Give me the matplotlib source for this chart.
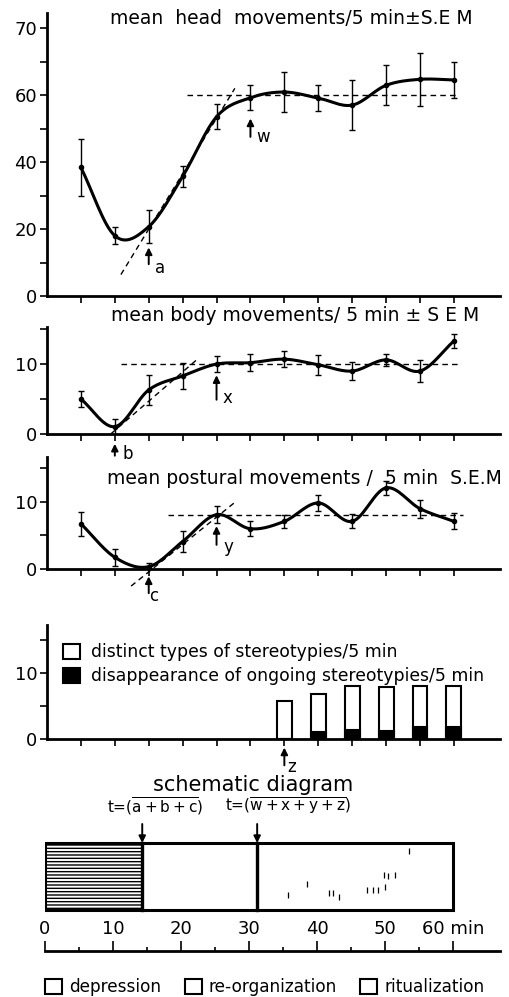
import numpy as np
import matplotlib
matplotlib.use("Agg")
import matplotlib.pyplot as plt
from matplotlib.patches import Rectangle, Patch

# time points (min)
minutes = [5, 10, 15, 20, 25, 30, 35, 40, 45, 50, 55, 60]

head_mean = [38.4, 18.0, 20.7, 35.7, 53.5, 59.2, 60.9, 59.1, 57.0, 62.9, 64.7, 64.5]
head_sem = [8.6, 2.6, 5.0, 3.2, 3.7, 3.7, 6.0, 4.0, 7.5, 6.0, 8.0, 5.5]

body_mean = [5.0, 1.05, 6.3, 8.3, 10.0, 10.2, 10.7, 9.9, 9.0, 10.6, 9.0, 13.3]
body_sem = [1.1, 1.1, 2.2, 1.9, 1.2, 1.2, 1.1, 1.4, 1.3, 0.9, 1.6, 1.0]

post_mean = [6.75, 1.75, 0.35, 4.1, 8.1, 6.0, 7.1, 9.85, 7.1, 12.1, 9.0, 7.1]
post_sem = [1.8, 1.3, 0.5, 1.6, 1.25, 1.1, 1.0, 1.15, 1.05, 1.0, 1.35, 1.2]

stereo_minutes = [35, 40, 45, 50, 55, 60]
distinct_types = [5.75, 6.85, 8.0, 7.85, 8.0, 8.0]
disappearance = [0.0, 1.1, 1.35, 1.2, 1.85, 1.85]

# schematic diagram phase borders (min)
t_abc = 14.3
t_wxyz = 31.2
ritual_marks_x = [35.8, 38.6, 41.7, 42.4, 43.3, 47.4, 48.2, 49.0, 50.0, 49.8, 50.5, 51.4, 53.6]
ritual_marks_y = [65, 76, 67, 67, 63, 70, 70, 70, 73, 85, 84, 85, 109]

W, H = 509, 997
FS = 13
TFS = 13.5


def smooth(x, y, n=16):
    # Catmull-Rom curve through the points
    x = np.asarray(x, float)
    y = np.asarray(y, float)
    px = np.concatenate([[2 * x[0] - x[1]], x, [2 * x[-1] - x[-2]]])
    py = np.concatenate([[2 * y[0] - y[1]], y, [2 * y[-1] - y[-2]]])
    t = np.linspace(0, 1, n, endpoint=False)
    xs, ys = [], []
    for i in range(1, len(px) - 2):
        for P, out in ((px, xs), (py, ys)):
            p0, p1, p2, p3 = P[i - 1:i + 3]
            out.extend(0.5 * (2 * p1 + (-p0 + p2) * t
                              + (2 * p0 - 5 * p1 + 4 * p2 - p3) * t ** 2
                              + (-p0 + 3 * p1 - 3 * p2 + p3) * t ** 3))
    xs.append(x[-1])
    ys.append(y[-1])
    return np.array(xs), np.array(ys)


def panel(top, bottom, ymax):
    ax = fig.add_axes([47 / W, 1 - bottom / H, 453 / W, (bottom - top) / H])
    ax.patch.set_visible(False)
    ax.set_xlim(0, 66.8)
    ax.set_ylim(0, ymax)
    for s in ["top", "right"]:
        ax.spines[s].set_visible(False)
    for s in ["left", "bottom"]:
        ax.spines[s].set_linewidth(2.0)
    ax.set_xticks(minutes)
    ax.set_xticklabels([])
    ax.tick_params(direction="out", length=5, width=1.2, labelsize=FS, pad=2)
    return ax


def arrow(ax, x, y0, y1, label, lx, ly):
    ax.annotate("", xy=(x, y1), xytext=(x, y0), annotation_clip=False,
                arrowprops=dict(arrowstyle="-|>", color="k", lw=1.4, mutation_scale=10,
                                shrinkA=0, shrinkB=0))
    ax.text(lx, ly, label, fontsize=12, ha="center", va="center", clip_on=False)


def series(ax, mean, sem):
    cx, cy = smooth(minutes, mean)
    ax.plot(cx, cy, color="k", lw=2.2, solid_capstyle="round")
    ax.errorbar(minutes, mean, yerr=sem, fmt="o", color="k", ms=3, lw=1, capsize=2.5, capthick=1)


fig = plt.figure(figsize=(W / 100, H / 100), dpi=100)

# head movements
ax1 = panel(13, 296, 84.5)
series(ax1, head_mean, head_sem)
ax1.plot([20.7, 60.6], [60, 60], "k--", lw=1, dashes=(4, 3))
ax1.plot([10.9, 27.7], [6.4, 62], "k--", lw=1, dashes=(4, 3))
ax1.set_yticks(range(0, 81, 10))
ax1.set_yticklabels(["0", "", "20", "", "40", "", "60", "", "70"])
arrow(ax1, 15, 9.5, 14.5, "a", 16.7, 8.4)
arrow(ax1, 30, 47.5, 53, "w", 31.8, 47.5)
ax1.text(36, 83, "mean  head  movements/5 min\u00b1S.E M", fontsize=TFS, ha="center", va="center")

# body movements
ax2 = panel(327, 434, 15.3)
series(ax2, body_mean, body_sem)
ax2.plot([10.9, 61], [10, 10], "k--", lw=1, dashes=(4, 3))
ax2.plot([9.4, 22.3], [0, 10.8], "k--", lw=1, dashes=(4, 3))
ax2.set_yticks([0, 5, 10, 15])
ax2.set_yticklabels(["0", "", "10", ""])
arrow(ax2, 25, 4.9, 8.4, "x", 26.6, 5.1)
arrow(ax2, 10, -3.1, -1.4, "b", 11.9, -2.9)
ax2.text(36.6, 17.0, "mean body movements/ 5 min \u00b1 S E M", fontsize=TFS, ha="center",
         va="center", clip_on=False)

# postural movements
ax3 = panel(457, 569, 16.7)
series(ax3, post_mean, post_sem)
ax3.plot([17.8, 61.4], [8.1, 8.1], "k--", lw=1, dashes=(4, 3))
ax3.plot([12.4, 27.9], [-2.55, 10.1], "k--", lw=1, dashes=(4, 3), clip_on=False)
ax3.set_yticks([0, 5, 10, 15])
ax3.set_yticklabels(["0", "", "10", ""])
arrow(ax3, 25, 3.6, 6.4, "y", 26.7, 3.3)
arrow(ax3, 15, -3.6, -1.1, "c", 15.8, -4.0)
ax3.text(38, 13.5, "mean postural movements /  5 min  S.E.M", fontsize=TFS, ha="center", va="center")

# stereotypies
ax4 = panel(625, 739, 17.3)
ax4.bar(stereo_minutes, distinct_types, width=2.2, color="white", edgecolor="k", lw=1.5,
        label="distinct types of stereotypies/5 min")
ax4.bar(stereo_minutes, disappearance, width=2.2, color="k", edgecolor="k", lw=1.5,
        label="disappearance of ongoing stereotypies/5 min")
ax4.set_yticks([0, 5, 10, 15])
ax4.set_yticklabels(["0", "", "10", ""])
arrow(ax4, 35, -4.0, -1.3, "z", 36.0, -4.3)
ax4.legend(loc="upper left", bbox_to_anchor=(0.02, 0.90), frameon=False, fontsize=12.4,
           handlelength=1.0, handleheight=1.0, handletextpad=0.6, labelspacing=0.35,
           borderaxespad=0)

# schematic diagram
ax5 = fig.add_axes([45 / W, 0, 455 / W, 227 / H])
ax5.set_xlim(0, 455 / 6.8)
ax5.set_ylim(-37, 190)
ax5.axis("off")
plt.rcParams["hatch.linewidth"] = 1.0
ax5.add_patch(Rectangle((0, 50), t_abc, 67, facecolor="white", edgecolor="k", hatch="-----", lw=0))
ax5.add_patch(Rectangle((0, 50), 60, 67, facecolor="none", edgecolor="k", lw=2.2))
for t in [t_abc, t_wxyz]:
    ax5.plot([t, t], [50, 117], color="k", lw=2.4)
    ax5.annotate("", xy=(t, 117), xytext=(t, 136),
                 arrowprops=dict(arrowstyle="-|>", color="k", lw=1.4, mutation_scale=10,
                                 shrinkA=0, shrinkB=0))
ax5.vlines(ritual_marks_x, np.array(ritual_marks_y) - 3, np.array(ritual_marks_y) + 3, color="k", lw=0.9)
ax5.text(16.2, 143, r"t=($\overline{\mathrm{a+b+c}}$)", fontsize=FS - 2, ha="center", va="bottom")
ax5.text(35.7, 143, r"t=($\overline{\mathrm{w+x+y+z}}$)", fontsize=FS - 2, ha="center", va="bottom")
ax5.text(30.6, 175, "schematic diagram", fontsize=15, ha="center", va="center")

# time scale
ax6 = fig.add_axes([45 / W, 46 / H, 455 / W, 0.0001])
ax6.set_xlim(0, 455 / 6.8)
for s in ["left", "right", "bottom"]:
    ax6.spines[s].set_visible(False)
ax6.spines["top"].set_linewidth(2.0)
ax6.set_yticks([])
ax6.xaxis.set_ticks_position("top")
ax6.set_xticks(range(0, 61, 10))
ax6.set_xticklabels(["0", "10", "20", "30", "40", "50", "60 min"])
ax6.set_xticks(range(5, 60, 10), minor=True)
ax6.tick_params(axis="x", which="major", direction="out", length=7, width=1.2, labelsize=FS, pad=2)
ax6.tick_params(axis="x", which="minor", direction="out", length=3, width=1.2)

handles = [Patch(facecolor="white", edgecolor="k", lw=1.5) for _ in range(3)]
fig.legend(handles, ["depression", "re-organization", "ritualization"], loc="center left",
           bbox_to_anchor=(30 / W, 10 / H), ncol=3, frameon=False, fontsize=12.2,
           handlelength=1.0, handleheight=1.0, handletextpad=0.4, columnspacing=1.4)

fig.savefig("out.png", dpi=100)
